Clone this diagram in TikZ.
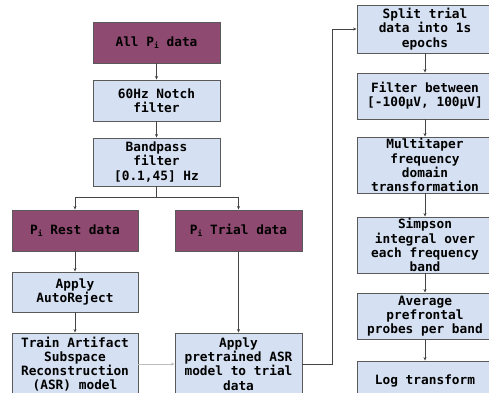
\documentclass[tikz,border=0pt]{standalone}
\usepackage{fontspec}
\setmainfont{DejaVu Sans Mono}
\usetikzlibrary{arrows.meta}
\definecolor{purp}{HTML}{8E4A70}
\definecolor{lblue}{HTML}{D5E1F2}
\definecolor{edgec}{HTML}{5A5A5A}
\definecolor{linec}{HTML}{444444}
\definecolor{faint}{HTML}{BDBDBD}
\newcommand{\Psub}{P\raisebox{-0.35ex}{\fontsize{8}{8}\selectfont i}}
\tikzset{
  box/.style={draw=edgec, line width=0.9pt, fill=lblue, align=center, inner sep=0.5pt,
    font=\bfseries\fontsize{12.8}{14.2}\selectfont, text=black},
  purpfill/.style={fill=purp},
  lw/.style={minimum width=126pt},
  mw/.style={minimum width=127pt},
  rw/.style={minimum width=136pt},
  conn/.style={draw=linec, line width=0.7pt, -{Stealth[length=3.5pt,width=3pt]}},
}
\begin{document}
\begin{tikzpicture}[x=1pt,y=1pt]
\useasboundingbox (0,0) rectangle (489,-392);
\clip (0,0) rectangle (489,-392);
% top column
\node[box, purpfill, mw, minimum height=41pt] (all) at (156.5,-42.5) {All \Psub{} data};
\node[box, mw, minimum height=41pt] (notch) at (156.5,-100.5) {60Hz Notch\\filter};
\node[box, mw, minimum height=48pt] (band) at (156.5,-162) {Bandpass\\filter\\{[}0.1,45] Hz};
% left column
\node[box, purpfill, lw, minimum height=41pt] (rest) at (75,-230.5) {\Psub{} Rest data};
\node[box, lw, minimum height=40pt] (auto) at (75,-292) {Apply\\AutoReject};
\node[box, lw, minimum height=62pt] (train) at (75,-364) {Train Artifact\\Subspace\\Reconstruction\\(ASR) model};
% middle column
\node[box, purpfill, mw, minimum height=41pt] (trial) at (238.5,-230.5) {\Psub{} Trial data};
\node[box, mw, minimum height=62pt] (apply) at (238.5,-364) {Apply\\pretrained ASR\\model to trial\\data};
% right column
\node[box, rw, minimum height=48pt] (split) at (425,-29) {Split trial\\data into 1s\\epochs};
\node[box, rw, minimum height=46pt] (filt) at (425,-96) {Filter between\\{[}-100µV, 100µV]};
\node[box, rw, minimum height=56pt] (multi) at (425,-165) {Multitaper\\frequency\\domain\\transformation};
\node[box, rw, minimum height=56pt] (simp) at (425,-245) {Simpson\\integral over\\each frequency\\band};
\node[box, rw, minimum height=46pt] (avg) at (425,-316) {Average\\prefrontal\\probes per band};
\node[box, rw, minimum height=40pt] (logt) at (425,-381) {Log transform};
% connectors
\coordinate (sp) at (156.5,-197);
\draw[conn] (all) -- (notch);
\draw[conn] (notch) -- (band);
\draw[conn] (band.south) -- (sp) -| (rest.north);
\draw[conn] (sp) -| (trial.north);
\draw[conn] (rest) -- (auto);
\draw[conn] (auto) -- (train);
\draw[conn] (trial) -- (apply);
\draw[conn, draw=faint] (train.east) -- (apply.west);
\draw[conn] (apply.east) -- ++(30,0) |- (split.west);
\draw[conn] (split) -- (filt);
\draw[conn] (filt) -- (multi);
\draw[conn] (multi) -- (simp);
\draw[conn] (simp) -- (avg);
\draw[conn] (avg) -- (logt);
\end{tikzpicture}
\end{document}
